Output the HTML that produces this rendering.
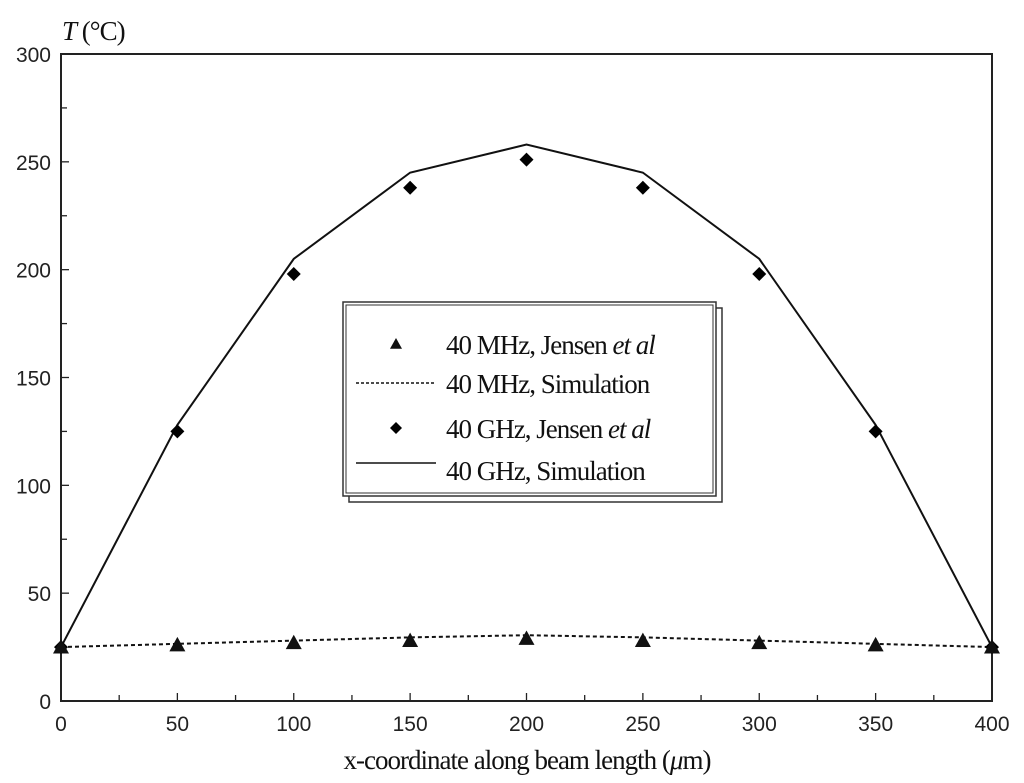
<!DOCTYPE html>
<html><head><meta charset="utf-8"><style>
body{margin:0;background:#fff;}
svg{display:block;}
.tk{font-family:"Liberation Sans",sans-serif;font-size:21px;fill:#222;}
.lg{font-family:"Liberation Serif",serif;font-size:27px;fill:#111;letter-spacing:-1px;}
</style></head><body>
<svg id="chart" width="1024" height="783"></svg>
<script>
const xTicks=[0,50,100,150,200,250,300,350,400];
const yTicks=[0,50,100,150,200,250,300];
const xs=[0,50,100,150,200,250,300,350,400];
const ghzSim=[25,128,205,245,258,245,205,128,25];
const ghzExp=[25,125,198,238,251,238,198,125,25];
const mhzSim=[25,26.5,28,29.5,30.5,29.5,28,26.5,25];
const mhzExp=[25,26,27,28,29,28,27,26,25];
const L=61,R=992,T=54,B=701;
const sx=v=>L+(v/400)*(R-L);
const sy=v=>B-(v/300)*(B-T);
const svg=document.getElementById('chart');
const NS='http://www.w3.org/2000/svg';
function mk(tag,attrs,parent){const e=document.createElementNS(NS,tag);for(const k in attrs)e.setAttribute(k,attrs[k]);(parent||svg).appendChild(e);return e;}
let f=mk('rect',{x:L,y:T,width:R-L,height:B-T,fill:'none',stroke:'#222','stroke-width':2});


for(let v=0;v<=400;v+=25){const x=sx(v);const len=v%50===0?8:6;
 let t=mk('line',{x1:x,x2:x,y1:B,y2:B-len,stroke:'#222','stroke-width':1.3});
 
 }
for(let v=0;v<=300;v+=25){const y=sy(v);const len=v%50===0?8:6;
 let t=mk('line',{x1:L,x2:L+len,y1:y,y2:y,stroke:'#222','stroke-width':1.3});
 
 }
xTicks.forEach(v=>{let t=mk('text',{x:sx(v),y:731,'text-anchor':'middle',class:'tk'});t.textContent=v;
 
 });
yTicks.forEach(v=>{let t=mk('text',{x:51,y:sy(v)+8,'text-anchor':'end',class:'tk'});t.textContent=v;
 
 });
let xt=mk('text',{x:527,y:769,'text-anchor':'middle',class:'lg','font-size':26,'letter-spacing':0});
xt.innerHTML='x-coordinate along beam length (<tspan font-style="italic">μ</tspan>m)';


let yt=mk('text',{x:62,y:40,class:'lg','font-size':30,'letter-spacing':0});
yt.innerHTML='<tspan font-style="italic">T</tspan> (°C)';


function pts(a){return xs.map((x,i)=>sx(x)+','+sy(a[i])).join(' ');}
let l1=mk('polyline',{points:pts(ghzSim),fill:'none',stroke:'#111','stroke-width':2});


let l2=mk('polyline',{points:pts(mhzSim),fill:'none',stroke:'#111','stroke-width':2,'stroke-dasharray':'4,3'});


function diamond(x,y,s){return mk('polygon',{points:`${x},${y-s} ${x+s},${y} ${x},${y+s} ${x-s},${y}`,fill:'#000'});}
function tri(x,y,s){return mk('polygon',{points:`${x},${y-s} ${x+s},${y+s*0.8} ${x-s},${y+s*0.8}`,fill:'#111'});}
xs.forEach((x,i)=>{let d=diamond(sx(x),sy(ghzExp[i]),7);
 
 });
xs.forEach((x,i)=>{let d=tri(sx(x),sy(mhzExp[i]),8);
 
 });
const lgG=mk('g',{});


mk('rect',{x:349,y:308,width:373,height:194,fill:'#fff',stroke:'#333','stroke-width':1.5},lgG);
mk('rect',{x:343,y:302,width:373,height:194,fill:'#fff',stroke:'#333','stroke-width':1.5},lgG);
mk('rect',{x:346,y:305,width:367,height:188,fill:'none',stroke:'#333','stroke-width':1},lgG);
const rows=[344,383,428,470];
const labels=['40 MHz, Jensen <tspan font-style="italic">et al</tspan>','40 MHz, Simulation','40 GHz, Jensen <tspan font-style="italic">et al</tspan>','40 GHz, Simulation'];
rows.forEach((y,i)=>{let t=mk('text',{x:446,y:y+10,class:'lg'},lgG);t.innerHTML=labels[i];
 
 });
lgG.appendChild(tri(396,rows[0],6));
mk('line',{x1:356,x2:436,y1:rows[1],y2:rows[1],stroke:'#111','stroke-width':1.5,'stroke-dasharray':'3,2'},lgG);
lgG.appendChild(diamond(396,rows[2],6));
mk('line',{x1:356,x2:436,y1:rows[3]-7,y2:rows[3]-7,stroke:'#111','stroke-width':1.5},lgG);
</script>
</body></html>
